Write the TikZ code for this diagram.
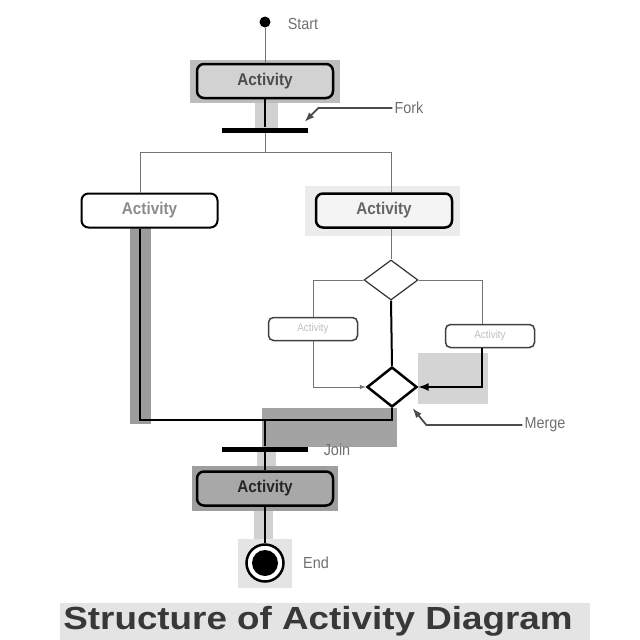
\documentclass[tikz,border=0pt]{standalone}
\usepackage{fontspec}
\setmainfont{Liberation Sans}
\newfontfamily\actfont[FakeStretch=0.9]{Liberation Sans}
\newfontfamily\titlefont[FakeStretch=1.15]{Liberation Sans}
\usepackage{tikz}
\usetikzlibrary{calc}
\usetikzlibrary{arrows}
\usetikzlibrary{arrows.meta}
\usetikzlibrary{shapes.geometric}
\usetikzlibrary{positioning}
\definecolor{bandgray}{HTML}{9C9C9C}
\definecolor{topbg}{HTML}{BDBDBD}
\definecolor{topfill}{HTML}{D2D2D2}
\definecolor{rightbg}{HTML}{ECECEC}
\definecolor{mergebg}{HTML}{A3A3A3}
\definecolor{lowbg}{HTML}{9E9E9E}
\definecolor{lowfill}{HTML}{A8A8A8}
\definecolor{titlebg}{HTML}{E4E4E4}
\definecolor{labelgray}{HTML}{707070}
\tikzset{activity/.style={rectangle,rounded corners=7pt,draw=black,line width=2.5pt,minimum width=136pt,minimum height=34pt,inner sep=0pt,font=\actfont\bfseries\fontsize{17}{20}\selectfont}}
\tikzset{smallact/.style={rectangle,rounded corners=5pt,draw=black!75,line width=1.5pt,minimum width=89pt,minimum height=23pt,inner sep=0pt,text=black!25,font=\actfont\fontsize{11}{12}\selectfont}}
\tikzset{bar/.style={rectangle,fill=black,minimum width=86pt,minimum height=5pt,inner sep=0pt}}
\tikzset{lbl/.style={text=labelgray,inner sep=2pt,font=\actfont\fontsize{16}{18}\selectfont}}
\tikzset{flow/.style={draw=black,line width=2.5pt}}
\tikzset{thinflow/.style={draw=black!55,line width=1pt}}
\tikzset{pointer/.style={line width=1.8pt,draw=black!70,-{Latex[length=10pt,width=7pt]}}}

\begin{document}
\begin{tikzpicture}[x=1pt,y=-1pt]
\useasboundingbox (0,0) rectangle (640,640);
\fill[white] (0,0) rectangle (640,640);

% grey backgrounds
\fill[topbg] (190,60) rectangle (340,103);
\fill[topbg!70] (255,103) rectangle (278,128);
\fill[rightbg] (305,186) rectangle (460,236);
\fill[bandgray] (130,227) rectangle (151,424);
\fill[rightbg!90!black] (418,353) rectangle (488,404);
\fill[mergebg] (262,408) rectangle (397,447);
\fill[topbg!70] (257,452) rectangle (276,468);
\fill[lowbg] (192,466) rectangle (338,511);
\fill[topbg!70] (254,511) rectangle (273,540);
\fill[titlebg] (238,539) rectangle (292,588);
\fill[titlebg] (60,603) rectangle (590,640);

\node[circle,fill=black,minimum size=11pt,inner sep=0pt] (start) at (265,22) {};
\node[lbl] (startlbl) at (303,24) {Start};

\node[activity,fill=topfill,text=black!70] (act0) at (265,81) {Activity};
\node[bar] (fork) at (265,130) {};
\node[lbl] (forklbl) at (409,108) {Fork};

\node[activity,fill=white,line width=2pt,text=black!45] (actL) at (149.5,210.5) {Activity};
\node[activity,fill=rightbg!60,text=black!60] (actR) at (384,210.5) {Activity};

\node[diamond,draw=black!80,line width=1.2pt,minimum width=54pt,minimum height=40pt,inner sep=0pt] (dec) at (391,280) {};
\node[smallact] (actLL) at (313,329) {Activity};
\node[smallact] (actRR) at (490,336) {Activity};
\node[diamond,draw=black,line width=2.5pt,fill=white,minimum width=50pt,minimum height=40pt,inner sep=0pt] (merge) at (392,387) {};
\node[lbl] (mergelbl) at (545,425) {Merge};

\node[bar] (join) at (265,449) {};
\node[lbl] (joinlbl) at (337,450) {Join};
\node[activity,fill=lowfill,text=black!85] (act1) at (265,488.5) {Activity};

\node[circle,draw=black,line width=2.5pt,fill=white,minimum size=37pt,inner sep=0pt] (end) at (265,563) {};
\fill[black] (end) circle (13pt);
\node[lbl] (endlbl) at (316,563) {End};

\coordinate (split) at (265,152);
\coordinate (lx) at (140,0);
\coordinate (rx) at (482,0);
\coordinate (jn) at (265,420);

\draw[thinflow] (start) -- (act0);
\draw[flow] (act0) -- (fork);
\draw[thinflow] (fork) -- (split);
\draw[thinflow] (split) -| (actL.north -| lx);
\draw[thinflow] (split) -| (actR.north -| dec);
\draw[thinflow] (actR.south -| dec) -- (dec.north);
\draw[thinflow] (dec.west) -| (actLL.north);
\draw[thinflow] (dec.east) -| (actRR.north -| rx);
\draw[line width=2pt] (dec.south) -- (merge.north);
\draw[thinflow,-latex] (actLL.south) |- (merge.west);
\draw[flow,-latex] (actRR.south -| rx) |- (merge.east);
\draw[flow] (actL.south -| lx) |- (jn);
\draw[flow] (merge.south) |- (jn);
\draw[flow] (jn) -- (join);
\draw[flow] (join) -- (act1);
\draw[flow] (act1) -- (end);

% pointers to the labels
\draw[pointer] (forklbl.west) -- ++(-74,0) -- ++(-14,14);
\draw[pointer] (mergelbl.west) -- ++(-96,0) -- ++(-14,-17);

\node[text=black!78,font=\titlefont\bfseries\fontsize{32}{34}\selectfont] (title) at (318,621) {Structure of Activity Diagram};
\end{tikzpicture}
\end{document}
